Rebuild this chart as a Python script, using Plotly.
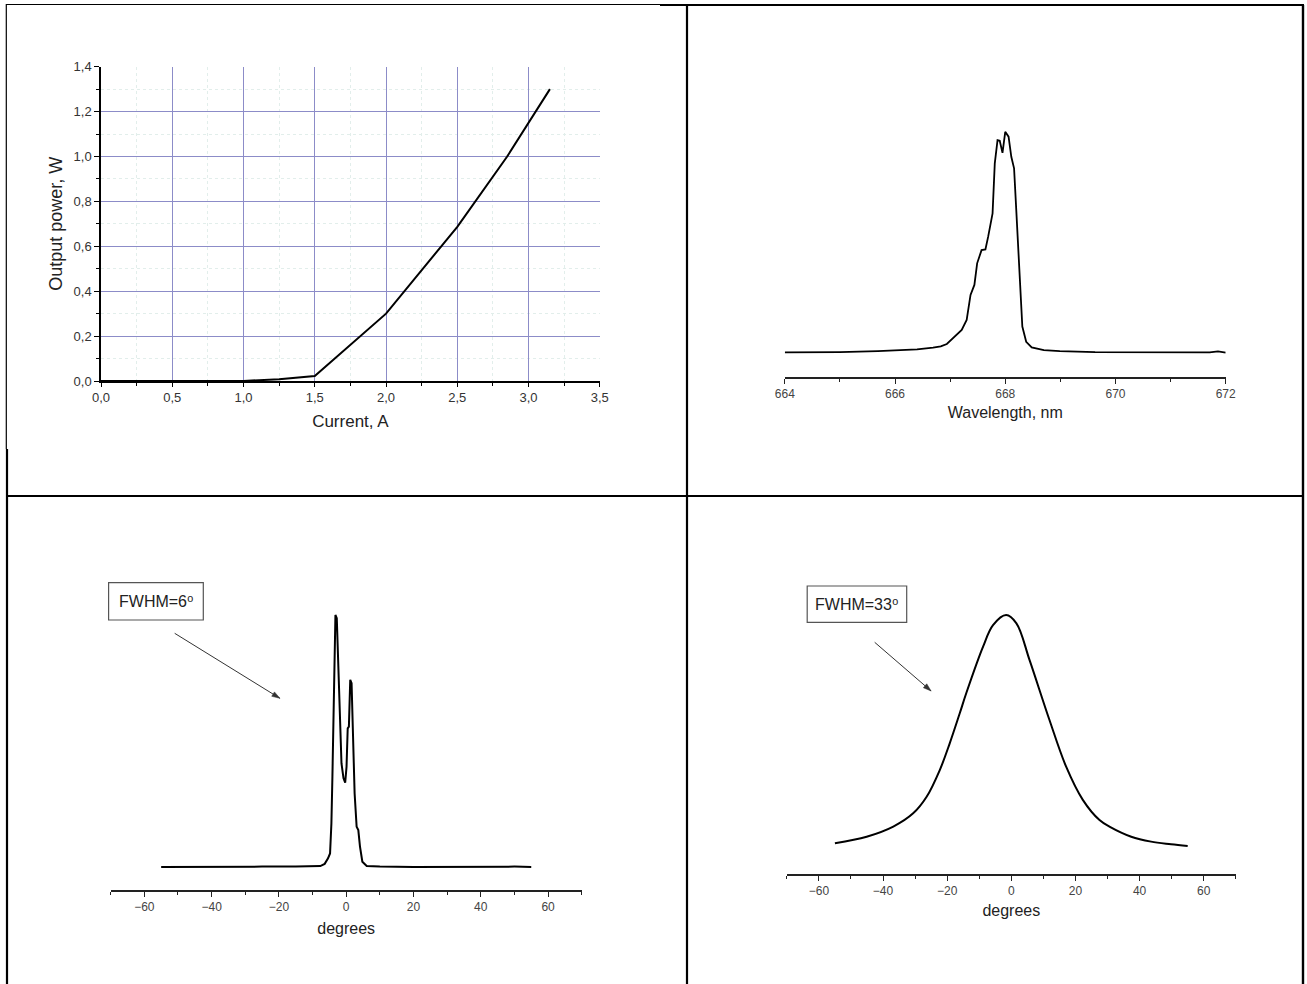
import math
import plotly.graph_objects as go

# ---------------- data ----------------
# Panel 1: L-I curve
current_A = [0.0, 0.5, 1.0, 1.25, 1.5, 2.0, 2.5, 2.85, 3.0, 3.15]
power_W = [0.0, 0.0, 0.0, 0.008, 0.022, 0.30, 0.687, 1.0, 1.148, 1.30]

# Panel 2: spectrum (relative intensity)
wavelength_nm = [664.0, 665.0, 665.69, 666.0, 666.4, 666.69, 666.83, 666.94, 667.03, 667.12,
                 667.21, 667.30, 667.37, 667.44, 667.49, 667.57, 667.64, 667.69, 667.77, 667.81,
                 667.86, 667.90, 667.95, 668.0, 668.06, 668.11, 668.16, 668.20, 668.26, 668.31,
                 668.38, 668.48, 668.70, 668.99, 669.63, 670.71, 671.71, 671.86, 672.0]
spectrum = [0.100, 0.101, 0.105, 0.108, 0.112, 0.119, 0.124, 0.134, 0.153, 0.169,
            0.191, 0.232, 0.334, 0.375, 0.463, 0.517, 0.520, 0.572, 0.667, 0.871,
            0.966, 0.963, 0.914, 1.000, 0.980, 0.898, 0.851, 0.680, 0.422, 0.205,
            0.143, 0.120, 0.109, 0.105, 0.101, 0.100, 0.100, 0.104, 0.099]

# Panel 3: far field, FWHM = 6 deg
angle_a = [-55, -45, -35, -25, -15, -10, -7.7, -6.4, -5.4, -4.8, -4.4, -4.1, -3.7, -3.4,
           -3.2, -2.8, -2.4, -1.9, -1.4, -0.8, -0.3, 0.1, 0.45, 0.8, 1.2, 1.6, 2.0, 2.5,
           3.1, 3.6, 4.1, 4.8, 6.1, 10, 20, 30, 40, 50, 55]
farfield_a = [0.084, 0.085, 0.084, 0.085, 0.085, 0.086, 0.087, 0.095, 0.115, 0.133, 0.242, 0.412,
              0.715, 0.958, 1.000, 0.988, 0.836, 0.570, 0.460, 0.406, 0.390, 0.448, 0.588, 0.594,
              0.764, 0.752, 0.521, 0.352, 0.230, 0.218, 0.158, 0.103, 0.087, 0.085, 0.084,
              0.085, 0.084, 0.085, 0.084]

# Panel 4: far field, FWHM = 33 deg
angle_b = [-55.0, -45.1, -36.8, -30.6, -26.4, -22.3, -19.2, -16.1, -14.0, -8.8, -5.7, -1.6,
           1.6, 5.7, 11.9, 17.1, 22.3, 27.5, 30.6, 37.4, 43.6, 49.8, 55.0]
farfield_b = [0.120, 0.145, 0.184, 0.235, 0.299, 0.402, 0.505, 0.620, 0.700, 0.878, 0.961, 1.000,
              0.968, 0.826, 0.595, 0.415, 0.287, 0.209, 0.184, 0.145, 0.126, 0.116, 0.109]

label_fwhm_a = "FWHM=6\u2070"
label_fwhm_b = "FWHM=33\u2070"

# ---------------- layout helpers ----------------
W, H = 1307, 984
FONT = "Arial, Liberation Sans, DejaVu Sans, sans-serif"


def px(x):
    return x / W


def py(y):
    return 1 - y / H


fig = go.Figure()

fig.add_trace(go.Scatter(x=current_A, y=power_W, mode="lines",
                         line=dict(color="black", width=2), xaxis="x", yaxis="y"))
fig.add_trace(go.Scatter(x=wavelength_nm, y=spectrum, mode="lines",
                         line=dict(color="black", width=1.8), xaxis="x2", yaxis="y2"))
fig.add_trace(go.Scatter(x=angle_a, y=farfield_a, mode="lines",
                         line=dict(color="black", width=2), xaxis="x3", yaxis="y3"))
fig.add_trace(go.Scatter(x=angle_b, y=farfield_b, mode="lines", line_shape="spline",
                         line=dict(color="black", width=2, smoothing=1.0), xaxis="x4", yaxis="y4"))

tick_gray = "#444"

common_x = dict(showline=True, linecolor="#222", linewidth=1.5, ticks="outside",
                ticklen=5, tickwidth=1.2, tickcolor="#222", showgrid=False, zeroline=False,
                tickfont=dict(size=12, color=tick_gray, family=FONT), fixedrange=True,
                automargin=False)
hidden_y = dict(visible=False, fixedrange=True, automargin=False)

fig.update_layout(
    width=W, height=H, margin=dict(l=0, r=0, t=0, b=0, pad=0, autoexpand=False),
    paper_bgcolor="white", plot_bgcolor="white", showlegend=False,
    separators=", ",
    font=dict(family=FONT, color="#222"),
    # Panel 1
    xaxis=dict(domain=[px(101), px(599.8)], range=[0, 3.5], dtick=0.5, tickformat=".1f",
               showline=True, linecolor="black", linewidth=1.5, ticks="outside", ticklen=4,
               tickcolor="black", showgrid=True, gridcolor="#8c8cc8", gridwidth=1,
               zeroline=False, tickfont=dict(size=13, color="#333"),
               minor=dict(dtick=0.25, showgrid=True, gridcolor="#e2eeeb", griddash="dot",
                          ticks="outside", ticklen=3, tickcolor="black"),
               title=dict(text="Current, A", font=dict(size=17, color="#222"), standoff=11),
               anchor="y", fixedrange=True, automargin=False),
    yaxis=dict(domain=[py(381), py(66.7)], range=[0, 1.4], dtick=0.2, tickformat=".1f",
               showline=True, linecolor="black", linewidth=1.5, ticks="outside", ticklen=5,
               tickcolor="black", showgrid=True, gridcolor="#8c8cc8", gridwidth=1,
               zeroline=False, tickfont=dict(size=13, color="#333"),
               minor=dict(dtick=0.1, showgrid=True, gridcolor="#e2eeeb", griddash="dot",
                          ticks="outside", ticklen=3, tickcolor="black"),
               title=dict(text="Output power, W", font=dict(size=18, color="#222"), standoff=6),
               anchor="x", fixedrange=True, automargin=False),
    # Panel 2
    xaxis2=dict(common_x, domain=[px(784.8), px(1225.7)], range=[664, 672], dtick=2,
                minor=dict(dtick=1, ticks="outside", ticklen=3, tickcolor="#222"),
                title=dict(text="Wavelength, nm", font=dict(size=16, color="#222"), standoff=7),
                anchor="y2"),
    yaxis2=dict(hidden_y, domain=[py(376.8), py(95)], range=[0, 1.15], anchor="x2"),
    # Panel 3
    xaxis3=dict(common_x, domain=[px(110.7), px(581.7)], range=[-70, 70], dtick=20,
                minor=dict(dtick=10, ticks="outside", ticklen=3, tickcolor="#222"),
                title=dict(text="degrees", font=dict(size=16, color="#222"), standoff=10),
                anchor="y3"),
    yaxis3=dict(hidden_y, domain=[py(890), py(580)], range=[0, 310 / 275], anchor="x3"),
    # Panel 4
    xaxis4=dict(common_x, domain=[px(786.8), px(1235.8)], range=[-70, 70], dtick=20,
                minor=dict(dtick=10, ticks="outside", ticklen=3, tickcolor="#222"),
                title=dict(text="degrees", font=dict(size=16, color="#222"), standoff=7),
                anchor="y4"),
    yaxis4=dict(hidden_y, domain=[py(874.3), py(580)], range=[0, 294.3 / 259.3], anchor="x4"),
)

# ---------------- table borders ----------------
def hline(x0, x1, y, w):
    fig.add_shape(type="line", xref="paper", yref="paper", x0=px(x0), x1=px(x1),
                  y0=py(y), y1=py(y), line=dict(color="black", width=w))


def vline(x, y0, y1, w):
    fig.add_shape(type="line", xref="paper", yref="paper", x0=px(x), x1=px(x),
                  y0=py(y0), y1=py(y1), line=dict(color="black", width=w))


hline(6, 660, 4.5, 1.2)
hline(660, 1304, 5, 2.2)
vline(6.3, 4, 449, 1.2)
vline(7, 449, 984, 2.2)
vline(687, 5, 984, 2.2)
vline(1303, 5, 984, 2.4)
hline(7, 1303, 496, 2.2)


# ---------------- FWHM boxes and arrows ----------------
def arrow(tx, ty, hx, hy, color="#333"):
    fig.add_shape(type="line", xref="paper", yref="paper", x0=px(tx), y0=py(ty),
                  x1=px(hx), y1=py(hy), line=dict(color=color, width=1))
    ang = math.atan2(hy - ty, hx - tx)
    L, Wd = 8, 2.6
    bx, by = hx - L * math.cos(ang), hy - L * math.sin(ang)
    p1 = (bx + Wd * math.sin(ang), by - Wd * math.cos(ang))
    p2 = (bx - Wd * math.sin(ang), by + Wd * math.cos(ang))
    path = "M {} {} L {} {} L {} {} Z".format(px(hx), py(hy), px(p1[0]), py(p1[1]),
                                              px(p2[0]), py(p2[1]))
    fig.add_shape(type="path", xref="paper", yref="paper", path=path,
                  line=dict(color=color, width=0.5), fillcolor=color)


for (bx0, by0, bx1, by1), label, (hx, hy), (tx, ty) in [
    ((108.6, 582.7, 203.3, 620), label_fwhm_a, (279.9, 698.3), (174.7, 633.3)),
    ((807.2, 586, 906.7, 622.3), label_fwhm_b, (931.1, 691), (874.7, 642.3)),
]:
    fig.add_shape(type="rect", xref="paper", yref="paper", x0=px(bx0), x1=px(bx1),
                  y0=py(by1), y1=py(by0), line=dict(color="#555", width=1.2),
                  fillcolor="white")
    fig.add_annotation(xref="paper", yref="paper", x=px((bx0 + bx1) / 2), y=py((by0 + by1) / 2),
                       text=label, showarrow=False, xanchor="center", yanchor="middle",
                       font=dict(size=16, color="#222", family=FONT))
    arrow(tx, ty, hx, hy)

fig.write_html("out.html", config={"displayModeBar": False},
               post_script="document.body.style.margin='0';document.body.style.overflow='hidden';")
